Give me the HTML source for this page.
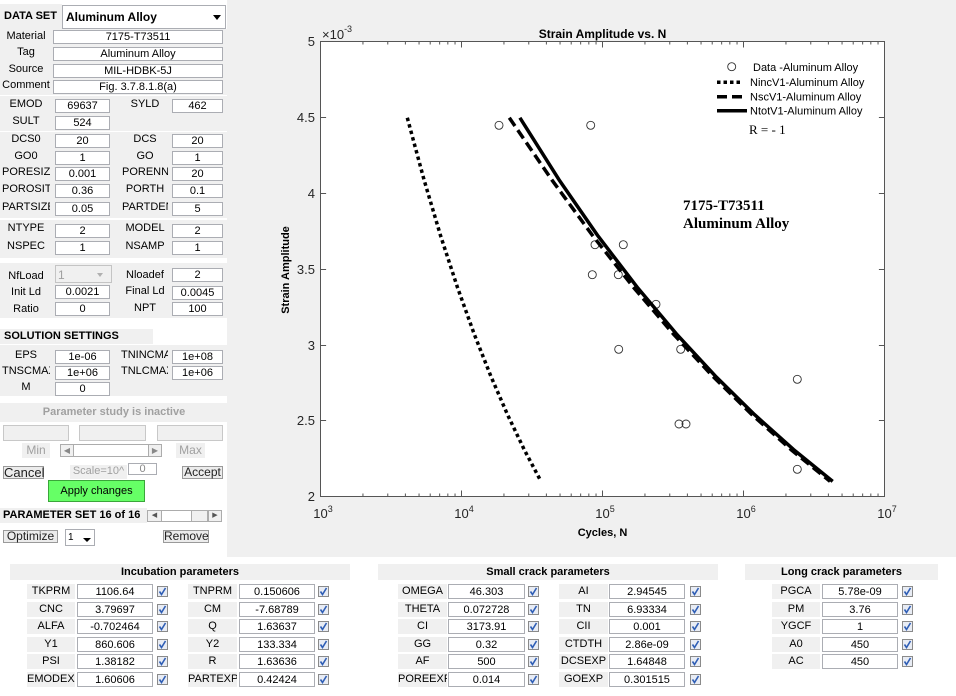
<!DOCTYPE html>
<html><head><meta charset="utf-8">
<style>
body{margin:0;width:956px;height:696px;position:relative;background:#fff;overflow:hidden;font-family:"Liberation Sans",Arial,sans-serif;font-size:11px;color:#000}
.g{position:absolute;background:#f0f0f0}
.l{position:absolute;background:#f0f0f0;text-align:center;white-space:nowrap;overflow:hidden;font-size:11px;line-height:13px;height:14px}
.f{position:absolute;background:#fff;border:1px solid #abadb3;box-sizing:border-box;text-align:center;white-space:nowrap;overflow:hidden;font-size:11px;line-height:13px;height:14px}
.b{position:absolute;background:#ececec;border:1px solid #9a9a9a;box-sizing:border-box;text-align:center;white-space:nowrap;font-size:12px;line-height:11px;color:#222}
.d{color:#a0a0a0}
.bl{height:15px;line-height:14px}
.bf{height:15px;line-height:15px}
.cb{position:absolute}
</style></head><body>

<!-- LEFT PANEL -->
<div class="l" style="left:0;top:4px;width:62px;height:25px;line-height:25px;text-align:left;padding-left:4px;box-sizing:border-box;font-weight:bold">DATA SET</div>
<div class="f" style="left:62px;top:5px;width:164px;height:24px;line-height:22px;text-align:left;padding-left:3px;font-weight:bold;font-size:12px">Aluminum Alloy</div>
<div style="position:absolute;left:213px;top:15px;width:0;height:0;border-left:4px solid transparent;border-right:4px solid transparent;border-top:5px solid #000"></div>

<div class="g" style="left:0;top:29px;width:227px;height:66px"></div>
<div class="l" style="left:2px;top:30px;width:48px">Material</div><div class="f" style="left:53px;top:30px;width:170px">7175-T73511</div>
<div class="l" style="left:2px;top:46px;width:48px">Tag</div><div class="f" style="left:53px;top:47px;width:170px">Aluminum Alloy</div>
<div class="l" style="left:2px;top:63px;width:48px">Source</div><div class="f" style="left:53px;top:64px;width:170px">MIL-HDBK-5J</div>
<div class="l" style="left:2px;top:79px;width:48px">Comment</div><div class="f" style="left:53px;top:80px;width:170px">Fig. 3.7.8.1.8(a)</div>

<div class="g" style="left:0;top:96px;width:227px;height:35px"></div>
<div class="l" style="left:2px;top:98px;width:48px">EMOD</div><div class="f" style="left:55px;top:99px;width:55px">69637</div>
<div class="l" style="left:122px;top:98px;width:46px">SYLD</div><div class="f" style="left:172px;top:99px;width:51px">462</div>
<div class="l" style="left:2px;top:115px;width:48px">SULT</div><div class="f" style="left:55px;top:116px;width:55px">524</div>

<div class="g" style="left:0;top:132px;width:227px;height:86px"></div>
<div class="l" style="left:2px;top:133px;width:48px">DCS0</div><div class="f" style="left:55px;top:134px;width:55px">20</div>
<div class="l" style="left:122px;top:133px;width:46px">DCS</div><div class="f" style="left:172px;top:134px;width:51px">20</div>
<div class="l" style="left:2px;top:150px;width:48px">GO0</div><div class="f" style="left:55px;top:151px;width:55px">1</div>
<div class="l" style="left:122px;top:150px;width:46px">GO</div><div class="f" style="left:172px;top:151px;width:51px">1</div>
<div class="l" style="left:2px;top:166px;width:48px">PORESIZE</div><div class="f" style="left:55px;top:167px;width:55px">0.001</div>
<div class="l" style="left:122px;top:166px;width:46px">PORENNN</div><div class="f" style="left:172px;top:167px;width:51px">20</div>
<div class="l" style="left:2px;top:183px;width:48px">POROSITY</div><div class="f" style="left:55px;top:184px;width:55px">0.36</div>
<div class="l" style="left:122px;top:183px;width:46px">PORTH</div><div class="f" style="left:172px;top:184px;width:51px">0.1</div>
<div class="l" style="left:2px;top:201px;width:48px">PARTSIZE</div><div class="f" style="left:55px;top:202px;width:55px">0.05</div>
<div class="l" style="left:122px;top:201px;width:46px">PARTDEN</div><div class="f" style="left:172px;top:202px;width:51px">5</div>

<div class="g" style="left:0;top:220px;width:227px;height:38px"></div>
<div class="l" style="left:2px;top:222px;width:48px">NTYPE</div><div class="f" style="left:55px;top:224px;width:55px">2</div>
<div class="l" style="left:122px;top:222px;width:46px">MODEL</div><div class="f" style="left:172px;top:224px;width:51px">2</div>
<div class="l" style="left:2px;top:240px;width:48px">NSPEC</div><div class="f" style="left:55px;top:241px;width:55px">1</div>
<div class="l" style="left:122px;top:240px;width:46px">NSAMP</div><div class="f" style="left:172px;top:241px;width:51px">1</div>

<div class="g" style="left:0;top:263px;width:227px;height:55px"></div>
<div class="l" style="left:2px;top:270px;width:48px">NfLoad</div>
<div style="position:absolute;left:55px;top:265px;width:57px;height:18px;box-sizing:border-box;border:1px solid #c4c4c4;background:#f0f0f0;color:#a0a0a0;font-size:12px;line-height:18px;padding-left:2px">1</div>
<div style="position:absolute;left:97px;top:273px;width:0;height:0;border-left:3px solid transparent;border-right:3px solid transparent;border-top:4px solid #b0b0b0"></div>
<div class="l" style="left:122px;top:269px;width:46px">Nloadef</div><div class="f" style="left:172px;top:268px;width:51px">2</div>
<div class="l" style="left:2px;top:286px;width:48px">Init Ld</div><div class="f" style="left:55px;top:285px;width:55px">0.0021</div>
<div class="l" style="left:122px;top:285px;width:46px">Final Ld</div><div class="f" style="left:172px;top:286px;width:51px">0.0045</div>
<div class="l" style="left:2px;top:303px;width:48px">Ratio</div><div class="f" style="left:55px;top:302px;width:55px">0</div>
<div class="l" style="left:122px;top:302px;width:46px">NPT</div><div class="f" style="left:172px;top:302px;width:51px">100</div>

<div class="l" style="left:0;top:329px;width:153px;height:15px;line-height:15px;text-align:left;padding-left:4px;box-sizing:border-box;font-weight:bold">SOLUTION SETTINGS</div>
<div class="g" style="left:0;top:345px;width:227px;height:51px"></div>
<div class="l" style="left:2px;top:349px;width:48px">EPS</div><div class="f" style="left:55px;top:350px;width:55px">1e-06</div>
<div class="l" style="left:121px;top:349px;width:47px">TNINCMAX</div><div class="f" style="left:172px;top:350px;width:51px">1e+08</div>
<div class="l" style="left:2px;top:365px;width:48px">TNSCMAX</div><div class="f" style="left:55px;top:366px;width:55px">1e+06</div>
<div class="l" style="left:121px;top:365px;width:47px">TNLCMAX</div><div class="f" style="left:172px;top:366px;width:51px">1e+06</div>
<div class="l" style="left:2px;top:381px;width:48px">M</div><div class="f" style="left:55px;top:382px;width:55px">0</div>

<div class="g d" style="left:0;top:403px;width:228px;height:19px;line-height:19px;text-align:center;font-weight:bold">Parameter study is inactive</div>
<div style="position:absolute;left:3px;top:425px;width:66px;height:16px;box-sizing:border-box;border:1px solid #c8c8c8;background:#f0f0f0"></div>
<div style="position:absolute;left:79px;top:425px;width:67px;height:16px;box-sizing:border-box;border:1px solid #c8c8c8;background:#f0f0f0"></div>
<div style="position:absolute;left:157px;top:425px;width:66px;height:16px;box-sizing:border-box;border:1px solid #c8c8c8;background:#f0f0f0"></div>
<div class="l d" style="left:22px;top:443px;width:28px;height:15px;line-height:15px;font-size:12px">Min</div>
<div style="position:absolute;left:60px;top:444px;width:102px;height:13px;box-sizing:border-box;border:1px solid #acacac;background:#fff"></div>
<div style="position:absolute;left:60px;top:444px;width:14px;height:13px;box-sizing:border-box;border:1px solid #acacac;background:#f0f0f0;font-size:8px;line-height:11px;text-align:center;color:#888">&#9664;</div>
<div style="position:absolute;left:148px;top:444px;width:14px;height:13px;box-sizing:border-box;border:1px solid #acacac;background:#f0f0f0;font-size:8px;line-height:11px;text-align:center;color:#888">&#9654;</div>
<div class="l d" style="left:176px;top:443px;width:29px;height:15px;line-height:15px;font-size:12px">Max</div>
<div class="b" style="left:3px;top:466px;width:41px;height:13px;font-size:13px">Cancel</div>
<div class="l d" style="left:70px;top:465px;width:57px">Scale=10^</div>
<div style="position:absolute;left:128px;top:463px;width:29px;height:12px;box-sizing:border-box;border:1px solid #abadb3;background:#fff;color:#888;text-align:center;font-size:11px;line-height:10px">0</div>
<div class="b" style="left:182px;top:466px;width:41px;height:13px;font-size:12px">Accept</div>
<div style="position:absolute;left:48px;top:480px;width:97px;height:22px;box-sizing:border-box;border:1px solid #3aa63a;background:#66ff66;text-align:center;line-height:20px;font-size:11px">Apply changes</div>
<div class="l" style="left:0;top:508px;width:147px;height:15px;line-height:15px;text-align:left;padding-left:3px;box-sizing:border-box;font-weight:bold">PARAMETER SET 16 of 16</div>
<div style="position:absolute;left:147px;top:510px;width:75px;height:12px;box-sizing:border-box;border:1px solid #acacac;background:#fff"></div>
<div style="position:absolute;left:147px;top:510px;width:15px;height:12px;box-sizing:border-box;border:1px solid #acacac;background:#f0f0f0;font-size:7px;line-height:10px;text-align:center;color:#555">&#9664;</div>
<div style="position:absolute;left:191px;top:510px;width:17px;height:12px;box-sizing:border-box;border:1px solid #acacac;background:#f0f0f0"></div>
<div style="position:absolute;left:208px;top:510px;width:14px;height:12px;box-sizing:border-box;border:1px solid #acacac;background:#f0f0f0;font-size:7px;line-height:10px;text-align:center;color:#555">&#9654;</div>
<div class="b" style="left:3px;top:530px;width:55px;height:13px">Optimize</div>
<div style="position:absolute;left:65px;top:529px;width:30px;height:17px;box-sizing:border-box;border:1px solid #abadb3;background:#fff;font-size:10px;line-height:15px;padding-left:2px">1</div>
<div style="position:absolute;left:83px;top:538px;width:0;height:0;border-left:4px solid transparent;border-right:4px solid transparent;border-top:4px solid #000"></div>
<div class="b" style="left:163px;top:530px;width:46px;height:13px">Remove</div>

<!-- CHART -->
<svg style="position:absolute;left:227px;top:0" width="729" height="557" viewBox="227 0 729 557" font-family="Liberation Sans, Arial, sans-serif">
<rect x="227" y="0" width="729" height="557" fill="#f0f0f0"/>
<rect x="320.5" y="41.5" width="564" height="455" fill="#fff" stroke="#555" stroke-width="1"/>
<g stroke="#555" stroke-width="1" fill="none">
<path d="M461.5 496.5v-6M602.5 496.5v-6M743.5 496.5v-6M461.5 41.5v6M602.5 41.5v6M743.5 41.5v6"/>
<path d="M362.95 496.5v-3M387.77 496.5v-3M405.39 496.5v-3M419.05 496.5v-3M430.21 496.5v-3M439.65 496.5v-3M447.83 496.5v-3M455.04 496.5v-3
M503.95 496.5v-3M528.77 496.5v-3M546.39 496.5v-3M560.05 496.5v-3M571.21 496.5v-3M580.65 496.5v-3M588.83 496.5v-3M596.04 496.5v-3
M644.95 496.5v-3M669.77 496.5v-3M687.39 496.5v-3M701.05 496.5v-3M712.21 496.5v-3M721.65 496.5v-3M729.83 496.5v-3M737.04 496.5v-3
M785.95 496.5v-3M810.77 496.5v-3M828.39 496.5v-3M842.05 496.5v-3M853.21 496.5v-3M862.65 496.5v-3M870.83 496.5v-3M878.04 496.5v-3"/>
<path d="M362.95 41.5v3M387.77 41.5v3M405.39 41.5v3M419.05 41.5v3M430.21 41.5v3M439.65 41.5v3M447.83 41.5v3M455.04 41.5v3
M503.95 41.5v3M528.77 41.5v3M546.39 41.5v3M560.05 41.5v3M571.21 41.5v3M580.65 41.5v3M588.83 41.5v3M596.04 41.5v3
M644.95 41.5v3M669.77 41.5v3M687.39 41.5v3M701.05 41.5v3M712.21 41.5v3M721.65 41.5v3M729.83 41.5v3M737.04 41.5v3
M785.95 41.5v3M810.77 41.5v3M828.39 41.5v3M842.05 41.5v3M853.21 41.5v3M862.65 41.5v3M870.83 41.5v3M878.04 41.5v3"/>
<path d="M320.5 117.5h5.6M320.5 193.5h5.6M320.5 269.5h5.6M320.5 345.5h5.6M320.5 420.5h5.6
M884.5 117.5h-5.6M884.5 193.5h-5.6M884.5 269.5h-5.6M884.5 345.5h-5.6M884.5 420.5h-5.6"/>
</g>
<g font-size="13" fill="#262626" text-anchor="end">
<text x="315" y="46">5</text><text x="315" y="122">4.5</text><text x="315" y="198">4</text>
<text x="315" y="274">3.5</text><text x="315" y="350">3</text><text x="315" y="425">2.5</text><text x="315" y="501">2</text>
</g>
<g font-size="13" fill="#262626" text-anchor="middle">
<text x="323" y="518">10<tspan dy="-6" font-size="9">3</tspan></text>
<text x="464" y="518">10<tspan dy="-6" font-size="9">4</tspan></text>
<text x="605" y="518">10<tspan dy="-6" font-size="9">5</tspan></text>
<text x="746" y="518">10<tspan dy="-6" font-size="9">6</tspan></text>
<text x="887" y="518">10<tspan dy="-6" font-size="9">7</tspan></text>
</g>
<text x="322" y="39" font-size="13" fill="#262626">×10<tspan dy="-7" font-size="9">-3</tspan></text>
<text x="602.5" y="38" text-anchor="middle" font-weight="bold" font-size="12" fill="#000">Strain Amplitude vs. N</text>
<text x="602.5" y="536" text-anchor="middle" font-weight="bold" font-size="11" fill="#000">Cycles, N</text>
<text transform="translate(289,270) rotate(-90)" text-anchor="middle" font-weight="bold" font-size="11" fill="#000">Strain Amplitude</text>

<g fill="none" stroke="#333" stroke-width="0.9">
<circle cx="499" cy="125.3" r="4"/><circle cx="590.7" cy="125.3" r="4"/>
<circle cx="595" cy="244.7" r="4"/><circle cx="623.3" cy="244.7" r="4"/>
<circle cx="592.3" cy="274.7" r="4"/><circle cx="618.3" cy="274.7" r="4"/>
<circle cx="656" cy="304.3" r="4"/><circle cx="618.7" cy="349.3" r="4"/>
<circle cx="680.7" cy="349.3" r="4"/><circle cx="679" cy="424" r="4"/>
<circle cx="686" cy="424" r="4"/><circle cx="797.3" cy="379.3" r="4"/>
<circle cx="797.3" cy="469.3" r="4"/>
</g>
<g fill="none" stroke="#000" stroke-width="3.5" stroke-linejoin="round">
<polyline stroke-dasharray="3.5 3.2" points="407.3,117.75 424.0,179.7 440.7,236.1 457.4,287.2 474.1,333.8 490.8,376.1 507.5,414.6 524.2,449.6 541.0,481.4"/>
<polyline stroke-dasharray="10 5" points="509.3,117.75 551.7,179.7 593.0,236.1 633.4,287.2 673.2,333.8 712.6,376.1 751.9,414.6 791.0,449.6 830.1,481.4"/>
<polyline points="519.9,117.75 559.0,179.7 598.1,236.1 637.2,287.2 676.3,333.8 715.4,376.1 754.5,414.6 793.6,449.6 832.7,481.4"/>
</g>

<circle cx="731.7" cy="66.7" r="4" fill="none" stroke="#333" stroke-width="0.9"/>
<g stroke="#000" stroke-width="3.5" fill="none">
<path d="M717 82.3H742" stroke-dasharray="3.5 3"/>
<path d="M717 96.7H742" stroke-dasharray="10 5"/>
<path d="M717 110.7H747"/>
</g>
<g font-size="11" fill="#000">
<text x="753" y="71">Data -Aluminum Alloy</text>
<text x="750" y="86">NincV1-Aluminum Alloy</text>
<text x="750" y="100.5">NscV1-Aluminum Alloy</text>
<text x="750" y="114.5">NtotV1-Aluminum Alloy</text>
</g>
<text x="749" y="134" font-family="Liberation Serif, serif" font-size="13" fill="#000">R = - 1</text>
<g font-family="Liberation Serif, serif" font-weight="bold" font-size="15" fill="#000">
<text x="683" y="210">7175-T73511</text>
<text x="683" y="228">Aluminum Alloy</text>
</g>
</svg>

<!-- BOTTOM PANELS -->
<div class="g" style="left:10px;top:564px;width:340px;height:16px;line-height:16px;text-align:center;font-weight:bold">Incubation parameters</div>
<div class="g" style="left:378px;top:564px;width:340px;height:16px;line-height:16px;text-align:center;font-weight:bold">Small crack parameters</div>
<div class="g" style="left:745px;top:564px;width:193px;height:16px;line-height:16px;text-align:center;font-weight:bold">Long crack parameters</div>

<!-- Incubation -->
<div class="l bl" style="left:27px;top:584px;width:48px">TKPRM</div><div class="f bf" style="left:77px;top:584px;width:76px">1106.64</div>
<div class="l bl" style="left:27px;top:602px;width:48px">CNC</div><div class="f bf" style="left:77px;top:602px;width:76px">3.79697</div>
<div class="l bl" style="left:27px;top:619px;width:48px">ALFA</div><div class="f bf" style="left:77px;top:619px;width:76px">-0.702464</div>
<div class="l bl" style="left:27px;top:637px;width:48px">Y1</div><div class="f bf" style="left:77px;top:637px;width:76px">860.606</div>
<div class="l bl" style="left:27px;top:654px;width:48px">PSI</div><div class="f bf" style="left:77px;top:654px;width:76px">1.38182</div>
<div class="l bl" style="left:27px;top:672px;width:48px">EMODEXP</div><div class="f bf" style="left:77px;top:672px;width:76px">1.60606</div>
<div class="l bl" style="left:188px;top:584px;width:49px">TNPRM</div><div class="f bf" style="left:239px;top:584px;width:76px">0.150606</div>
<div class="l bl" style="left:188px;top:602px;width:49px">CM</div><div class="f bf" style="left:239px;top:602px;width:76px">-7.68789</div>
<div class="l bl" style="left:188px;top:619px;width:49px">Q</div><div class="f bf" style="left:239px;top:619px;width:76px">1.63637</div>
<div class="l bl" style="left:188px;top:637px;width:49px">Y2</div><div class="f bf" style="left:239px;top:637px;width:76px">133.334</div>
<div class="l bl" style="left:188px;top:654px;width:49px">R</div><div class="f bf" style="left:239px;top:654px;width:76px">1.63636</div>
<div class="l bl" style="left:188px;top:672px;width:49px">PARTEXP</div><div class="f bf" style="left:239px;top:672px;width:76px">0.42424</div>

<!-- Small crack -->
<div class="l bl" style="left:398px;top:584px;width:49px">OMEGA</div><div class="f bf" style="left:448px;top:584px;width:77px">46.303</div>
<div class="l bl" style="left:398px;top:602px;width:49px">THETA</div><div class="f bf" style="left:448px;top:602px;width:77px">0.072728</div>
<div class="l bl" style="left:398px;top:619px;width:49px">CI</div><div class="f bf" style="left:448px;top:619px;width:77px">3173.91</div>
<div class="l bl" style="left:398px;top:637px;width:49px">GG</div><div class="f bf" style="left:448px;top:637px;width:77px">0.32</div>
<div class="l bl" style="left:398px;top:654px;width:49px">AF</div><div class="f bf" style="left:448px;top:654px;width:77px">500</div>
<div class="l bl" style="left:398px;top:672px;width:49px">POREEXP</div><div class="f bf" style="left:448px;top:672px;width:77px">0.014</div>
<div class="l bl" style="left:559px;top:584px;width:49px">AI</div><div class="f bf" style="left:609px;top:584px;width:76px">2.94545</div>
<div class="l bl" style="left:559px;top:602px;width:49px">TN</div><div class="f bf" style="left:609px;top:602px;width:76px">6.93334</div>
<div class="l bl" style="left:559px;top:619px;width:49px">CII</div><div class="f bf" style="left:609px;top:619px;width:76px">0.001</div>
<div class="l bl" style="left:559px;top:637px;width:49px">CTDTH</div><div class="f bf" style="left:609px;top:637px;width:76px">2.86e-09</div>
<div class="l bl" style="left:559px;top:654px;width:49px">DCSEXP</div><div class="f bf" style="left:609px;top:654px;width:76px">1.64848</div>
<div class="l bl" style="left:559px;top:672px;width:49px">GOEXP</div><div class="f bf" style="left:609px;top:672px;width:76px">0.301515</div>

<!-- Long crack -->
<div class="l bl" style="left:772px;top:584px;width:48px">PGCA</div><div class="f bf" style="left:822px;top:584px;width:76px">5.78e-09</div>
<div class="l bl" style="left:772px;top:602px;width:48px">PM</div><div class="f bf" style="left:822px;top:602px;width:76px">3.76</div>
<div class="l bl" style="left:772px;top:619px;width:48px">YGCF</div><div class="f bf" style="left:822px;top:619px;width:76px">1</div>
<div class="l bl" style="left:772px;top:637px;width:48px">A0</div><div class="f bf" style="left:822px;top:637px;width:76px">450</div>
<div class="l bl" style="left:772px;top:654px;width:48px">AC</div><div class="f bf" style="left:822px;top:654px;width:76px">450</div>

<!-- Checkboxes -->
<svg style="position:absolute;left:0;top:0" width="956" height="696" pointer-events="none">
<defs>
<g id="ck"><rect x="0.5" y="0.5" width="10" height="10" fill="#e8ecf4" stroke="#8a8a8a"/><path d="M2.5 5.5l2 3 4-6.5" stroke="#2f5eb5" stroke-width="1.6" fill="none"/></g>
</defs>
<use href="#ck" x="157" y="586"/><use href="#ck" x="157" y="604"/><use href="#ck" x="157" y="621"/><use href="#ck" x="157" y="639"/><use href="#ck" x="157" y="656"/><use href="#ck" x="157" y="674"/>
<use href="#ck" x="318" y="586"/><use href="#ck" x="318" y="604"/><use href="#ck" x="318" y="621"/><use href="#ck" x="318" y="639"/><use href="#ck" x="318" y="656"/><use href="#ck" x="318" y="674"/>
<use href="#ck" x="528" y="586"/><use href="#ck" x="528" y="604"/><use href="#ck" x="528" y="621"/><use href="#ck" x="528" y="639"/><use href="#ck" x="528" y="656"/><use href="#ck" x="528" y="674"/>
<use href="#ck" x="690" y="586"/><use href="#ck" x="690" y="604"/><use href="#ck" x="690" y="621"/><use href="#ck" x="690" y="639"/><use href="#ck" x="690" y="656"/><use href="#ck" x="690" y="674"/>
<use href="#ck" x="902" y="586"/><use href="#ck" x="902" y="604"/><use href="#ck" x="902" y="621"/><use href="#ck" x="902" y="639"/><use href="#ck" x="902" y="656"/>
</svg>
</body></html>
